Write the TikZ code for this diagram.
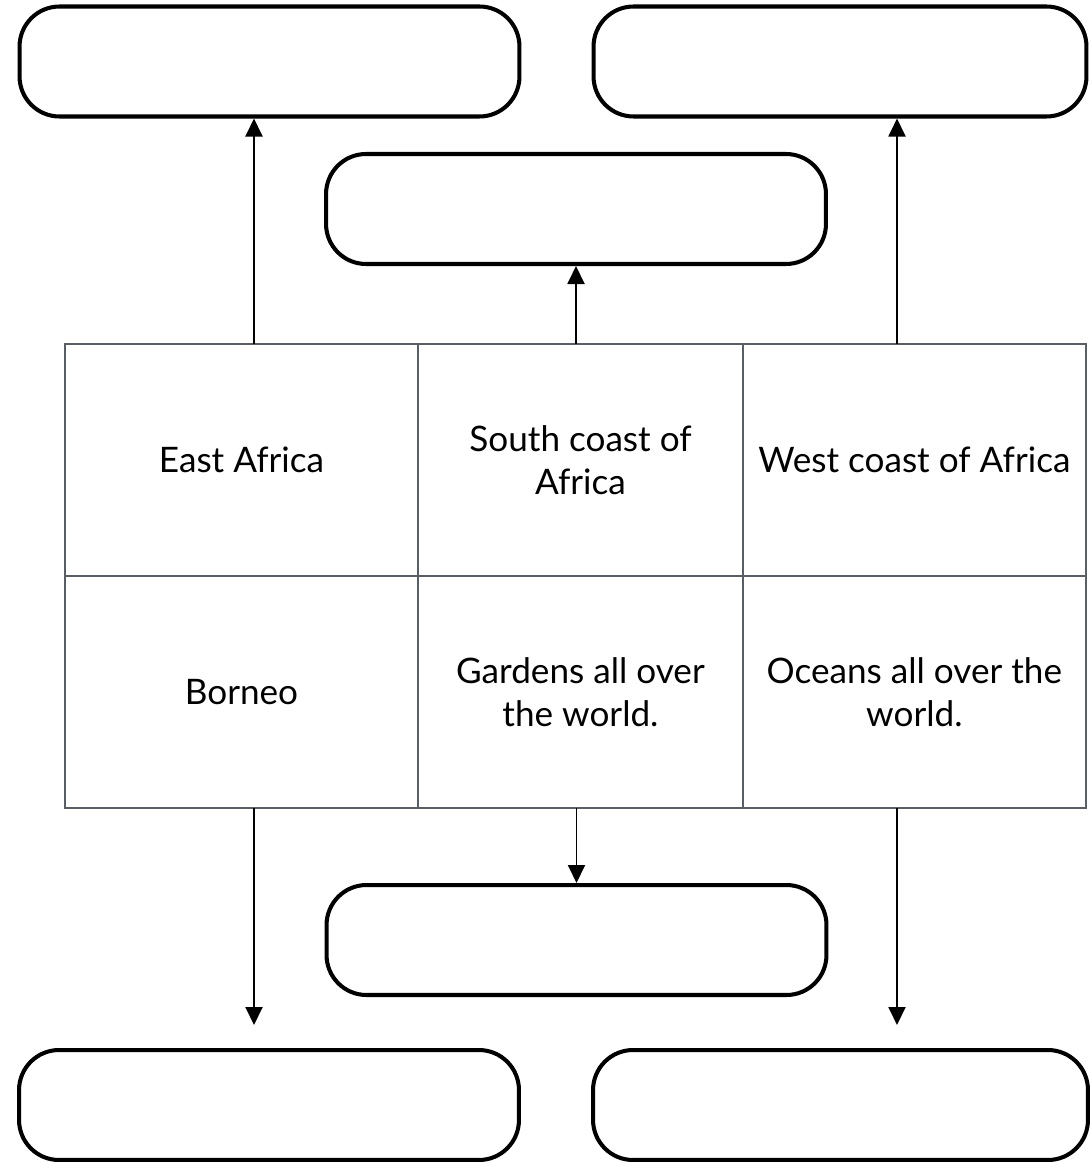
\documentclass[tikz,border=0pt]{standalone}
\usepackage{fontspec}
\setmainfont{Lato}
\usepackage{tikz}
\usetikzlibrary{positioning}
\usetikzlibrary{arrows.meta}
\usepackage{xcolor}
\definecolor{gridgrey}{RGB}{90,94,101}

\begin{document}
\begin{tikzpicture}
[x=0.02cm, y=-0.02cm,
% The answer style is used to draw the empty boxes
answer/.style={rectangle, draw, line width=2.3pt, rounded corners=0.8cm, minimum width=10cm, minimum height=2.2cm},
% The place style is used to draw the cells of the table
place/.style={rectangle, draw=gridgrey, line width=1.2pt, outer sep=0pt, minimum height=4.64cm, align=center, font=\fontsize{20}{24.6}\selectfont},
% The link style is used to draw the arrows
link/.style={-{Triangle[length=0.36cm, width=0.34cm]}, line width=1.1pt}
]
\useasboundingbox (0,0) rectangle (1089,1162);

% Draw table
\node [place, minimum width=7.06cm] (east) at (241.5,460) {East Africa};
\node [place, minimum width=6.5cm, right=0pt of east] (south) {South coast of\\Africa};
\node [place, minimum width=6.86cm, right=0pt of south] (west) {West coast of Africa};
\node [place, minimum width=7.06cm, below=0pt of east] (borneo) {Borneo};
\node [place, minimum width=6.5cm, right=0pt of borneo] (gardens) {Gardens all over\\the world.};
\node [place, minimum width=6.86cm, right=0pt of gardens] (oceans) {Oceans all over the\\world.};

% Draw boxes
\node [answer] (topleft) at (269.5,61.5) {};
\node [answer, minimum width=9.86cm] (topright) at (840,61.5) {};
\node [answer] (topmid) at (576,209) {};
\node [answer] (botmid) at (576.5,940) {};
\node [answer] (botleft) at (269,1105) {};
\node [answer, minimum width=9.9cm] (botright) at (840.5,1105) {};

% Draw arrows
\coordinate (lane1) at (254,0);
\coordinate (lane3) at (897,0);
\draw[link](east.north -| lane1)--(topleft.south -| lane1);
\draw[link](south.north -| topmid.south)--(topmid.south);
\draw[link](west.north -| lane3)--(topright.south -| lane3);
\draw[link, shorten >=0.46cm](borneo.south -| lane1)--(botleft.north -| lane1);
\draw[link](gardens.south -| botmid.north)--(botmid.north);
\draw[link, shorten >=0.46cm](oceans.south -| lane3)--(botright.north -| lane3);
\end{tikzpicture}
\end{document}
